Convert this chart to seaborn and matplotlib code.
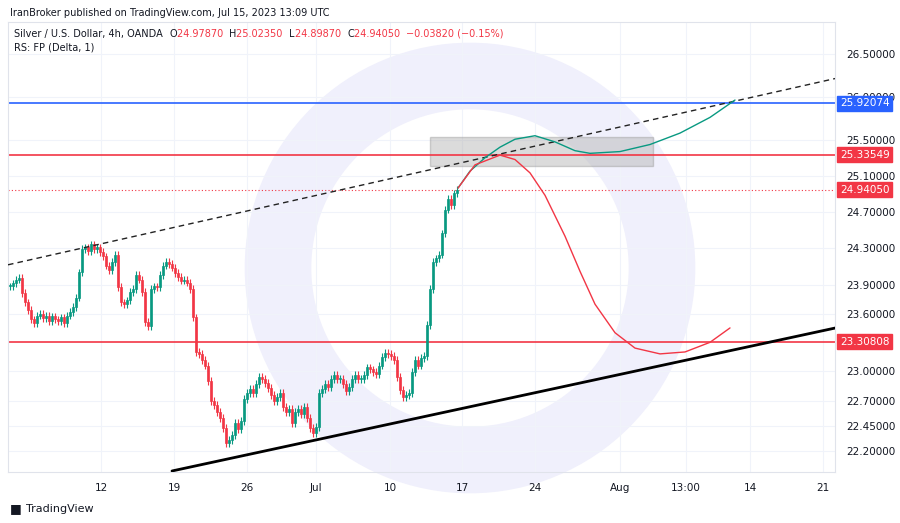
import numpy as np
import pandas as pd
import seaborn as sns
import matplotlib.pyplot as plt
from matplotlib.patches import Rectangle, Ellipse
from matplotlib.ticker import FixedLocator, NullLocator

# closes, 4h bars
closes = [23.89, 23.92, 23.96, 23.98, 23.82, 23.72, 23.64,
          23.54, 23.50, 23.58, 23.60, 23.55, 23.58, 23.52, 23.57, 23.54, 23.52,
          23.56, 23.50, 23.58, 23.62, 23.67, 23.77, 24.04,
          24.29, 24.31, 24.27, 24.34, 24.29, 24.31, 24.26,
          24.21, 24.11, 24.06, 24.15, 24.23, 23.88, 23.72,
          23.70, 23.74, 23.83, 23.86, 24.01, 23.96, 23.83,
          23.51, 23.47, 23.86, 23.89, 23.88, 24.01, 24.11,
          24.15, 24.13, 24.09, 24.03, 23.99, 23.95, 23.96,
          23.93, 23.86, 23.56, 23.20, 23.18, 23.12, 23.06,
          22.90, 22.70, 22.66, 22.59, 22.53, 22.43, 22.28,
          22.31, 22.36, 22.48, 22.42, 22.50, 22.72, 22.78,
          22.82, 22.78, 22.87, 22.94, 22.92, 22.88, 22.83,
          22.76, 22.70, 22.74, 22.78, 22.64, 22.59, 22.62,
          22.48, 22.59, 22.62, 22.57, 22.64, 22.53, 22.43,
          22.38, 22.44, 22.78, 22.82, 22.87, 22.84, 22.92,
          22.96, 22.92, 22.92, 22.87, 22.80, 22.84, 22.92,
          22.96, 22.92, 22.92, 22.96, 23.04, 23.02, 22.99,
          22.97, 23.06, 23.15, 23.19, 23.18, 23.16, 23.12,
          22.94, 22.81, 22.74, 22.76, 22.78, 22.99, 23.12,
          23.06, 23.14, 23.16, 23.48, 23.86, 24.15, 24.19,
          24.23, 24.46, 24.72, 24.84, 24.77, 24.90, 24.94]

# projection paths (chart px column, price)
green_x = [458, 470, 485, 500, 515, 535, 555, 575, 590, 620, 650, 680, 710, 735]
green_p = [24.96, 25.15, 25.30, 25.42, 25.51, 25.55, 25.48, 25.38, 25.35, 25.37, 25.45, 25.58, 25.76, 25.96]
red_x = [458, 475, 500, 515, 530, 545, 565, 580, 595, 615, 635, 660, 685, 710, 730]
red_p = [24.96, 25.22, 25.33, 25.28, 25.13, 24.88, 24.43, 24.05, 23.70, 23.40, 23.24, 23.18, 23.20, 23.30, 23.45]

date_px = [101, 174, 247, 316, 390, 462, 535, 620, 686, 750, 823]
date_labels = ["12", "19", "26", "Jul", "10", "17", "24", "Aug", "13:00", "14", "21"]
yticks = [26.5, 26.0, 25.5, 25.1, 24.7, 24.3, 23.9, 23.6, 23.0, 22.7, 22.45, 22.2]

GREEN = "#089981"
RED = "#F23645"
INK = "#131722"

def bx(px):
    return (px - 10) / 3.0

sns.set_style("white")
fig = plt.figure(figsize=(9, 5.23), dpi=100)
ax = fig.add_axes([8 / 900, 51 / 523, 827 / 900, 450 / 523])
ax.set_zorder(2)
ax.patch.set_alpha(0)
ax.set_yscale("log")
ax.set_ylim(21.99, 26.88)
ax.set_xlim(bx(8), bx(835))

# watermark ring (behind the chart)
fig.patches.append(Ellipse((470 / 900, 1 - 268 / 523), 384 / 900, 384 / 523,
                           transform=fig.transFigure, fill=False, lw=48,
                           ec="#f0f0fc", zorder=0))

df = pd.DataFrame({"close": closes})
df["open"] = df["close"].shift(1).fillna(df["close"].iloc[0])
df["high"] = df[["open", "close"]].max(axis=1) + 0.04
df["low"] = df[["open", "close"]].min(axis=1) - 0.04
df["i"] = np.arange(len(df))
cols = np.where(df["close"] >= df["open"], GREEN, RED)
ax.vlines(df["i"], df["low"], df["high"], colors=cols, lw=0.8, zorder=3)
body = (df["close"] - df["open"]).abs().clip(lower=0.01)
ax.bar(df["i"], body, bottom=df[["open", "close"]].min(axis=1), width=0.8,
       color=cols, edgecolor=cols, lw=0.5, zorder=4)

# levels and trend lines
ax.axhline(25.92074, color="#2962FF", lw=1.2, zorder=2)
ax.axhline(25.33549, color=RED, lw=1.2, zorder=2)
ax.axhline(23.30808, color=RED, lw=1.2, zorder=2)
ax.axhline(24.9405, color=RED, lw=0.8, ls=(0, (1, 2)), zorder=2)
ax.plot([bx(8), bx(835)], [24.12, 26.21], color="#222", lw=1, ls=(0, (4, 3)), zorder=5)
ax.plot([bx(172), bx(840)], [22.0, 23.46], color="black", lw=2, zorder=5)
ax.add_patch(Rectangle((bx(430), 25.21), bx(653) - bx(430), 0.33,
                       fc="#b0b0b0", ec="#9a9a9a", alpha=0.45, zorder=1))
sns.lineplot(x=[bx(v) for v in green_x], y=green_p, color=GREEN, lw=1, ax=ax, zorder=6)
sns.lineplot(x=[bx(v) for v in red_x], y=red_p, color=RED, lw=1, ax=ax, zorder=6)

# axes styling
ax.yaxis.set_major_locator(FixedLocator(yticks))
ax.yaxis.set_minor_locator(NullLocator())
ax.yaxis.tick_right()
ax.set_yticklabels([f"{v:.5f}" for v in yticks], fontsize=7.5, color=INK)
ax.set_xticks([bx(v) for v in date_px])
ax.set_xticklabels(date_labels, fontsize=7.5, color=INK)
ax.tick_params(length=0, pad=8)
ax.grid(True, color="#f0f3fa", lw=0.8)
for s in ax.spines.values():
    s.set_color("#e0e3eb")

# price boxes on the right scale
for val, c in [(25.92074, "#2962FF"), (25.33549, RED), (24.9405, RED), (23.30808, RED)]:
    ax.text(1.006, val, f"{val:.5f}", transform=ax.get_yaxis_transform(), fontsize=7.5,
            color="white", va="center", ha="left", zorder=10,
            bbox=dict(boxstyle="square,pad=0.25", fc=c, ec=c))

# headers
fig.text(10 / 900, 1 - 13 / 523, "IranBroker published on TradingView.com, Jul 15, 2023 13:09 UTC",
         fontsize=7, color=INK, va="center")
prev = fig.text(14 / 900, 1 - 34 / 523, "Silver / U.S. Dollar, 4h, OANDA  ", fontsize=7,
                color=INK, va="center")
for lab, c in [("O", INK), ("24.97870  ", RED), ("H", INK), ("25.02350  ", RED),
               ("L", INK), ("24.89870  ", RED), ("C", INK), ("24.94050  ", RED),
               ("\u22120.03820 (\u22120.15%)", RED)]:
    prev = ax.annotate(lab, xy=(1, 0.5), xycoords=prev, va="center", ha="left",
                       fontsize=7, color=c, annotation_clip=False)
fig.text(14 / 900, 1 - 48 / 523, "RS: FP (Delta, 1)", fontsize=7, color=INK, va="center")
fig.text(26 / 900, 1 - 509 / 523, "TradingView", fontsize=8, color=INK, va="center")
fig.text(10 / 900, 1 - 509 / 523, "\u25a0", fontsize=9, color=INK, va="center")

plt.savefig("out.png", dpi=100)
plt.close()
